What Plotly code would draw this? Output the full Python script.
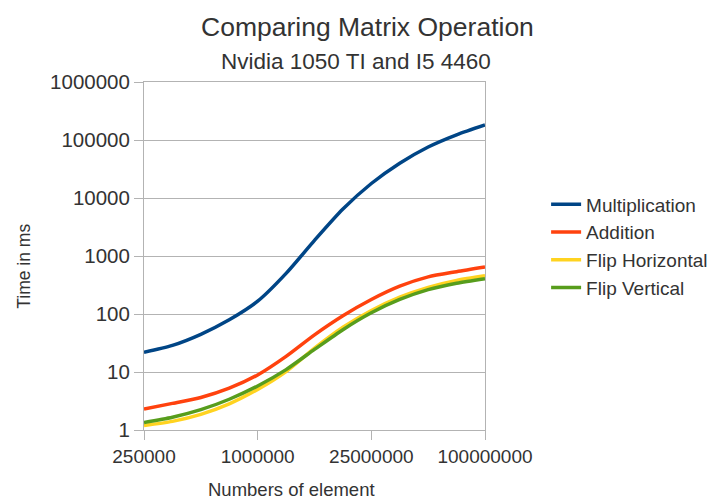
import plotly.graph_objects as go

# sample positions along the (category) x axis
sample_index = list(range(13))
tick_positions = [0, 4, 8, 12]
tick_labels = ["250000", "1000000", "25000000", "100000000"]

multiplication = [21.9, 28.8, 44.7, 79.4, 166, 501, 1862, 6457, 17780, 39810, 75860, 123000, 182000]
addition = [2.29, 2.88, 3.63, 5.25, 8.91, 18.6, 43.7, 93.3, 178, 302, 437, 537, 646]
flip_horizontal = [1.20, 1.41, 1.86, 2.82, 5.01, 10.2, 25.7, 58.9, 115, 195, 288, 380, 457]
flip_vertical = [1.35, 1.66, 2.24, 3.39, 5.75, 11.0, 24.5, 53.7, 105, 178, 263, 339, 407]

series = [
    ("Multiplication", multiplication, "#004586"),
    ("Addition", addition, "#ff420e"),
    ("Flip Horizontal", flip_horizontal, "#ffd320"),
    ("Flip Vertical", flip_vertical, "#579d1c"),
]

FONT = "Liberation Sans"
fig = go.Figure()
for name, vals, col in series:
    fig.add_trace(go.Scatter(x=sample_index, y=vals, name=name, mode="lines",
                             line=dict(color=col, width=3.5, shape="spline", smoothing=0.7)))

# page has an 8px body margin, so work in reference pixels shifted by 8
OFF = 8
W, H = 725 - OFF, 501 - OFF
L, T = 144 - OFF, 82 - OFF
pw, ph = 346, 348
R = W - L - pw
B = H - T - ph

def px_x(p):
    return (p - OFF - L) / pw

def px_y(p):
    return (T + ph - (p - OFF)) / ph

fig.update_layout(
    width=W, height=H,
    margin=dict(l=L, r=R, t=T, b=B),
    paper_bgcolor="white", plot_bgcolor="white",
    font=dict(family=FONT, color="#333333"),
    showlegend=True,
    legend=dict(x=px_x(552), y=px_y(246), xanchor="left", yanchor="middle",
                font=dict(size=19, color="#333333"), tracegroupgap=0,
                bgcolor="rgba(0,0,0,0)"),
    xaxis=dict(range=[0, 12], tickvals=tick_positions, ticktext=tick_labels,
               showgrid=False, zeroline=False, showline=True, mirror=True,
               linecolor="#b3b3b3", linewidth=1, ticks="outside", ticklen=9,
               tickcolor="#b3b3b3", tickfont=dict(size=19, color="#333333"),
               automargin=False),
    yaxis=dict(type="log", range=[0, 6], tickvals=[1, 10, 100, 1000, 10000, 100000, 1000000],
               ticktext=["1", "10", "100", "1000", "10000", "100000", "1000000"],
               showgrid=True, gridcolor="#b3b3b3", gridwidth=1, zeroline=False,
               showline=True, mirror=True, linecolor="#b3b3b3", linewidth=1,
               ticks="outside", ticklen=9, tickcolor="#b3b3b3",
               tickfont=dict(size=20.5, color="#333333"), automargin=False),
    annotations=[
        dict(text="Comparing Matrix Operation", xref="paper", yref="paper",
             x=px_x(371), y=px_y(27), xanchor="center", yanchor="middle",
             showarrow=False, font=dict(size=26.5, color="#333333")),
        dict(text="Nvidia 1050 TI and I5 4460", xref="paper", yref="paper",
             x=px_x(359), y=px_y(61), xanchor="center", yanchor="middle",
             showarrow=False, font=dict(size=22.5, color="#333333")),
        dict(text="Time in ms", xref="paper", yref="paper",
             x=px_x(22), y=px_y(266), xanchor="center", yanchor="middle",
             textangle=-90, showarrow=False, font=dict(size=17.5, color="#333333")),
        dict(text="Numbers of element", xref="paper", yref="paper",
             x=px_x(294), y=px_y(489), xanchor="center", yanchor="middle",
             showarrow=False, font=dict(size=18.5, color="#333333")),
    ],
)

fig.write_html("out.html")
